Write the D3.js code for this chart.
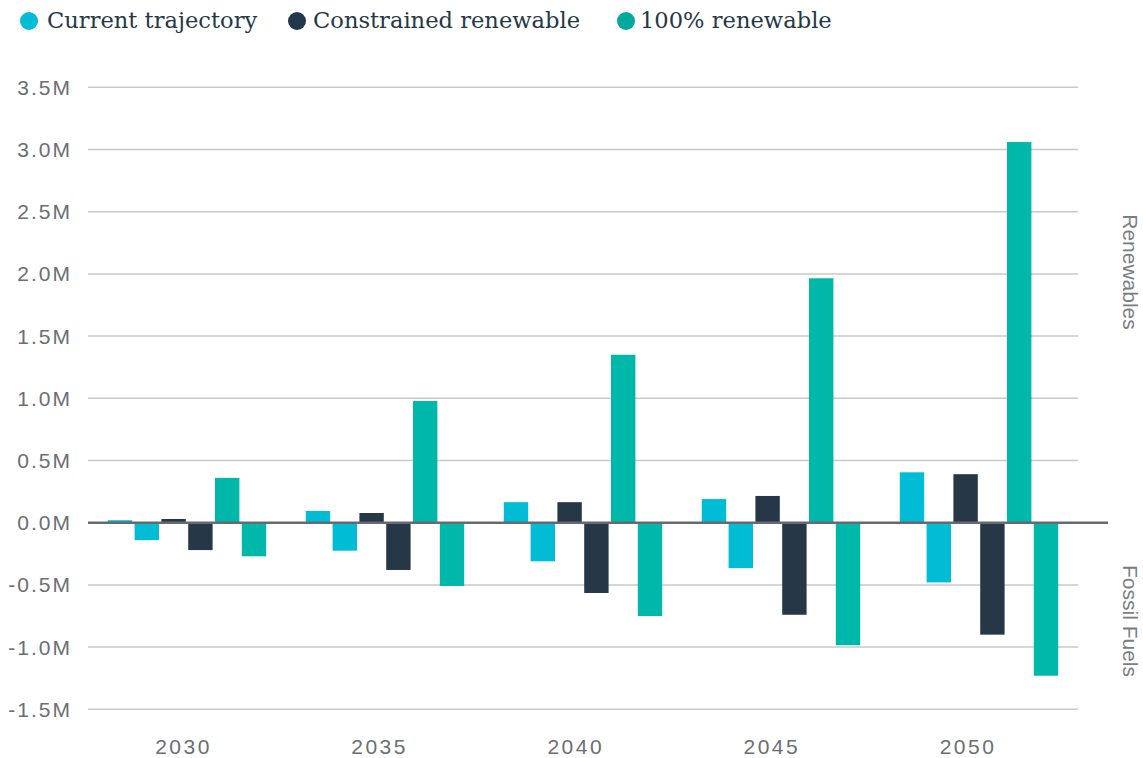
<!DOCTYPE html>
<html>
<head>
<meta charset="utf-8">
<script src="https://cdn.jsdelivr.net/npm/d3@7"></script>
<style>
  body { margin: 0; background: #fff; }
  svg { display: block; }
</style>
</head>
<body>
<div id="chart"></div>
<script>
var width = 1143;
var height = 758;

// values in millions
var years = ["2030", "2035", "2040", "2045", "2050"];
var seriesNames = ["Current trajectory", "Constrained renewable", "100% renewable"];
var currentRenew = [0.02, 0.094, 0.165, 0.19, 0.405];
var currentFossil = [-0.14, -0.225, -0.31, -0.365, -0.48];
var constrainedRenew = [0.03, 0.078, 0.165, 0.215, 0.39];
var constrainedFossil = [-0.22, -0.38, -0.565, -0.74, -0.90];
var fullRenew = [0.36, 0.978, 1.35, 1.965, 3.06];
var fullFossil = [-0.27, -0.509, -0.75, -0.985, -1.23];
var yTicks = [-1.5, -1.0, -0.5, 0.0, 0.5, 1.0, 1.5, 2.0, 2.5, 3.0, 3.5];

var colors = ["#00bcd4", "#263847", "#00b8a9"];
var legendColors = ["#00bcd4", "#22384a", "#00a99d"];

var barKeys = ["cr", "cf", "kr", "kf", "fr", "ff"];
var barSeries = {
  cr: { values: currentRenew, color: colors[0] },
  cf: { values: currentFossil, color: colors[0] },
  kr: { values: constrainedRenew, color: colors[1] },
  kf: { values: constrainedFossil, color: colors[1] },
  fr: { values: fullRenew, color: colors[2] },
  ff: { values: fullFossil, color: colors[2] }
};

var svg = d3.select("#chart").append("svg")
    .attr("width", width).attr("height", height);

var x0 = d3.scaleBand().domain(years).range([88, 1078])
    .paddingInner(0.2).paddingOuter(0.1);
var x1 = d3.scaleBand().domain(barKeys).range([0, x0.bandwidth()])
    .paddingInner(0.09).paddingOuter(0);
var xLabel = d3.scalePoint().domain(years).range([183.5, 968]);
var y = d3.scaleLinear().domain([-1.5, 3.5]).range([709.3, 87.3]);

// gridlines
svg.append("g").selectAll("line")
  .data(yTicks.filter(function(d) { return d !== 0; }))
  .enter().append("line")
    .attr("x1", 88).attr("x2", 1078)
    .attr("y1", function(d) { return y(d); })
    .attr("y2", function(d) { return y(d); })
    .style("stroke", "#c9c9c9")
    .style("stroke-width", 1.5);

// y tick labels
svg.append("g").selectAll("text")
  .data(yTicks)
  .enter().append("text")
    .attr("x", 72)
    .attr("y", function(d) { return y(d); })
    .attr("dy", "0.36em")
    .attr("text-anchor", "end")
    .style("font-family", "'Liberation Sans', Arial, sans-serif")
    .style("font-size", "21px")
    .style("letter-spacing", "2px")
    .style("fill", "#6b6e73")
    .text(function(d) { return d.toFixed(1) + "M"; });

// bars
var groups = svg.append("g").selectAll("g")
  .data(years)
  .enter().append("g")
    .attr("transform", function(d) { return "translate(" + x0(d) + ",0)"; });

groups.selectAll("rect")
  .data(function(d, i) {
    return barKeys.map(function(k) {
      return { key: k, value: barSeries[k].values[i], color: barSeries[k].color };
    });
  })
  .enter().append("rect")
    .attr("x", function(d) { return x1(d.key); })
    .attr("width", x1.bandwidth())
    .attr("y", function(d) { return y(Math.max(0, d.value)); })
    .attr("height", function(d) { return Math.abs(y(d.value) - y(0)); })
    .style("fill", function(d) { return d.color; });

// zero line
svg.append("line")
   .attr("x1", 88).attr("x2", 1108)
   .attr("y1", y(0)).attr("y2", y(0))
   .style("stroke", "#666a70")
   .style("stroke-width", 2.5);

// x labels
svg.append("g").selectAll("text")
  .data(years)
  .enter().append("text")
    .attr("x", function(d) { return xLabel(d); })
    .attr("y", 746)
    .attr("dy", "0.36em")
    .attr("text-anchor", "middle")
    .style("font-family", "'Liberation Sans', Arial, sans-serif")
    .style("font-size", "21px")
    .style("letter-spacing", "2.5px")
    .style("fill", "#6b6e73")
    .text(function(d) { return d; });

// right side labels
var sideLabels = [{ text: "Renewables", y: 272 }, { text: "Fossil Fuels", y: 621 }];
svg.append("g").selectAll("text")
  .data(sideLabels)
  .enter().append("text")
    .attr("transform", function(d) { return "translate(1131," + d.y + ") rotate(90)"; })
    .attr("text-anchor", "middle")
    .attr("dy", "0.36em")
    .style("font-family", "'Liberation Sans', Arial, sans-serif")
    .style("font-size", "21px")
    .style("fill", "#7a7d82")
    .text(function(d) { return d.text; });

// legend
var legendDotX = [29, 297, 626];
var legendTextX = [47, 313, 640];
var legend = svg.append("g").selectAll("g")
  .data(seriesNames)
  .enter().append("g");
legend.append("circle")
    .attr("cx", function(d, i) { return legendDotX[i]; })
    .attr("cy", 21)
    .attr("r", 9)
    .style("fill", function(d, i) { return legendColors[i]; });
legend.append("text")
    .attr("x", function(d, i) { return legendTextX[i]; })
    .attr("y", 21)
    .attr("dy", "0.33em")
    .style("font-family", "'DejaVu Serif', Georgia, serif")
    .style("font-size", "22.6px")
    .style("fill", "#263847")
    .text(function(d) { return d; });
</script>
</body>
</html>
